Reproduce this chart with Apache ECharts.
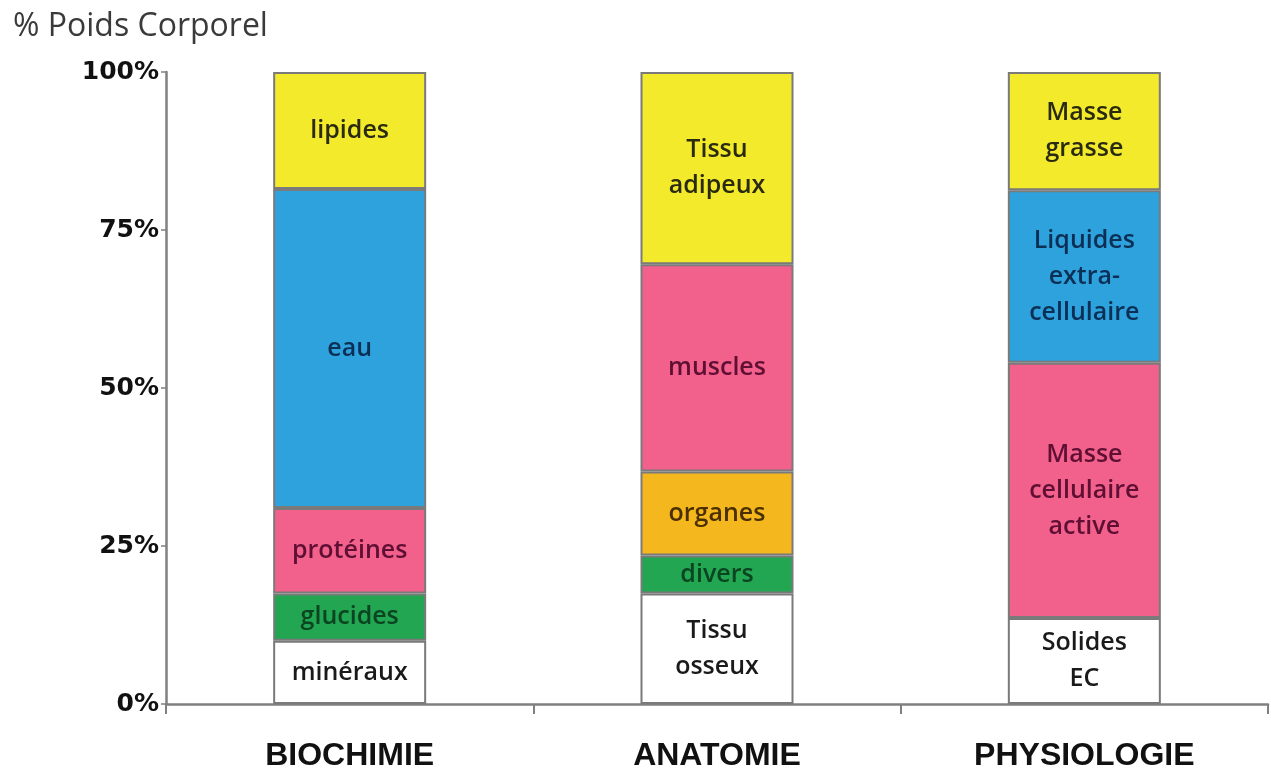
<!DOCTYPE html>
<html>
<head>
<meta charset="utf-8">
<script src="https://cdn.jsdelivr.net/npm/echarts@6/dist/echarts.min.js"></script>
<style>
  html, body { margin: 0; padding: 0; background: #fff; }
  #chart { width: 1271px; height: 774px; }
</style>
</head>
<body>
<div id="chart"></div>
<script>
// categories (columns)
var categories = ['BIOCHIMIE', 'ANATOMIE', 'PHYSIOLOGIE'];

// segments of each column, from bottom to top
var bioNames  = ['minéraux', 'glucides', 'protéines', 'eau', 'lipides'];
var bioValues = [10, 7.5, 13.5, 50.5, 18.5];
var anaNames  = ['Tissu\nosseux', 'divers', 'organes', 'muscles', 'Tissu\nadipeux'];
var anaValues = [17.5, 6, 13.3, 32.8, 30.4];
var phyNames  = ['Solides\nEC', 'Masse\ncellulaire\nactive', 'Liquides\nextra-\ncellulaire', 'Masse\ngrasse'];
var phyValues = [13.6, 40.4, 27.3, 18.7];

var yTicks = [0, 25, 50, 75, 100];

// colours per segment kind
var palette = {
    white:  { fill: '#ffffff', text: '#1a1a1a' },
    green:  { fill: '#22a652', text: '#0b4420' },
    pink:   { fill: '#f2618c', text: '#5e0f33' },
    blue:   { fill: '#2ea2dd', text: '#0b2f55' },
    yellow: { fill: '#f3ea2c', text: '#2a2a10' },
    orange: { fill: '#f5b71e', text: '#4a3000' }
};
var bioKinds = ['white', 'green', 'pink', 'blue', 'yellow'];
var anaKinds = ['white', 'green', 'orange', 'pink', 'yellow'];
var phyKinds = ['white', 'pink', 'blue', 'yellow'];

var columns = [
    { names: bioNames, values: bioValues, kinds: bioKinds },
    { names: anaNames, values: anaValues, kinds: anaKinds },
    { names: phyNames, values: phyValues, kinds: phyKinds }
];

var layers = 5;
var series = [];
for (var l = 0; l < layers; l++) {
    var data = [];
    for (var c = 0; c < columns.length; c++) {
        var col = columns[c];
        if (l < col.values.length) {
            var k = palette[col.kinds[l]];
            data.push({
                value: col.values[l],
                name: col.names[l],
                itemStyle: { color: k.fill },
                label: { color: k.text }
            });
        } else {
            data.push('-');
        }
    }
    series.push({
        type: 'bar',
        stack: 'total',
        barWidth: 153,
        data: data,
        itemStyle: { borderColor: '#7a7a7a', borderWidth: 2 },
        label: {
            show: true,
            position: 'inside',
            formatter: function (p) { return p.data.name; },
            fontFamily: 'Open Sans',
            fontWeight: 600,
            fontSize: 25,
            lineHeight: 36
        }
    });
}

var chart = echarts.init(document.getElementById('chart'));
chart.setOption({
    backgroundColor: '#ffffff',
    animation: false,
    title: {
        text: '% Poids Corporel',
        left: 8,
        top: 6,
        textStyle: { fontFamily: 'Open Sans', fontSize: 32, fontWeight: 'normal', color: '#3a3a3a' }
    },
    grid: { left: 166, right: 3, top: 72, bottom: 70 },
    xAxis: {
        type: 'category',
        data: categories,
        axisLine: { lineStyle: { color: '#808080', width: 2.5 } },
        axisTick: { show: true, inside: false, length: 10, lineStyle: { color: '#808080', width: 2 } },
        axisLabel: {
            margin: 36,
            fontFamily: 'Liberation Sans',
            fontWeight: 'bold',
            fontSize: 32,
            color: '#111'
        }
    },
    yAxis: {
        type: 'value',
        min: yTicks[0],
        max: yTicks[yTicks.length - 1],
        interval: 25,
        splitLine: { show: false },
        axisLine: { show: true, lineStyle: { color: '#808080', width: 2.5 } },
        axisTick: { show: true, length: 5, lineStyle: { color: '#808080', width: 1.5 } },
        axisLabel: {
            formatter: '{value}%',
            margin: 7,
            fontFamily: 'DejaVu Sans',
            fontWeight: 'bold',
            fontSize: 25,
            color: '#111'
        }
    },
    series: series
});
</script>
</body>
</html>
